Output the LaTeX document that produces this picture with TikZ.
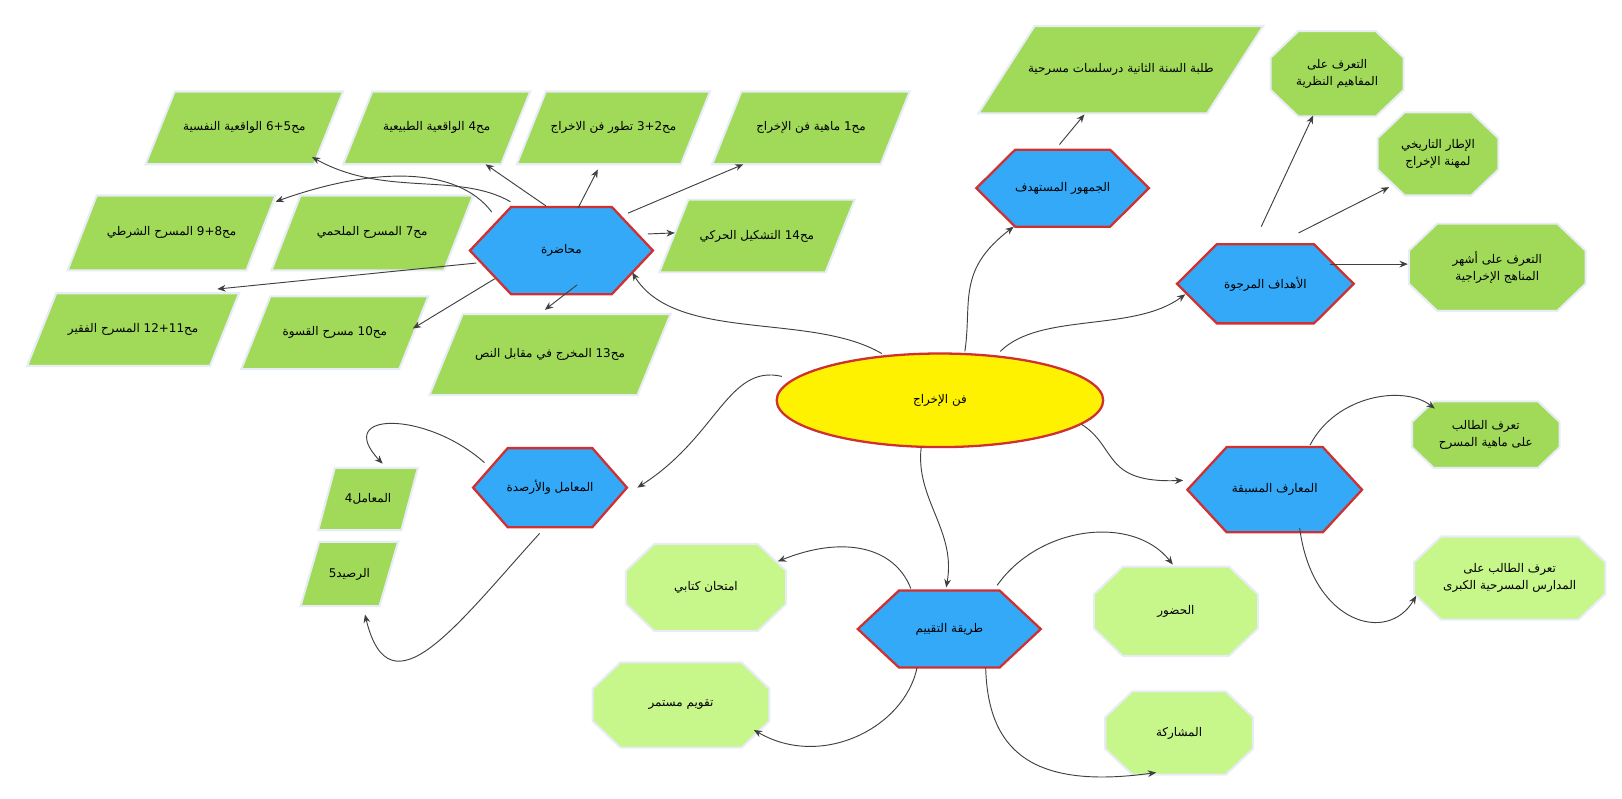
\documentclass[tikz,border=0pt]{standalone}
\usepackage{fontspec}
\newfontfamily\arabicfont[Script=Arabic]{DejaVu Sans}
\TeXXeTstate=1
\usetikzlibrary{shapes.geometric,arrows.meta}
\definecolor{hexblue}{HTML}{33A9F7}
\definecolor{hexred}{HTML}{D03030}
\definecolor{pgreen}{HTML}{A0DA58}
\definecolor{lgreen}{HTML}{C7F68A}
\definecolor{pborder}{HTML}{E8ECF6}
\definecolor{arr}{HTML}{404040}
\newcommand\ar[1]{{\arabicfont\beginR #1\endR}}
\tikzset{
 hexs/.style={draw=hexred,line width=2.2pt,fill=hexblue,line join=miter},
 paras/.style={draw=pborder,line width=2pt,fill=pgreen},
 octs/.style={draw=pborder,line width=2pt},
 lab/.style={inner sep=0pt,align=center,font=\fontsize{11.5}{16}\selectfont},
 con/.style={draw=arr,line width=0.9pt,-{Stealth[length=8pt,width=6.5pt]}}
}
\newcommand\hexa[6]{%
 \draw[hexs] ({#2-#4},#3) -- ({#2-0.55*#4},{#3-#5}) -- ({#2+0.55*#4},{#3-#5}) -- ({#2+#4},#3) -- ({#2+0.55*#4},{#3+#5}) -- ({#2-0.55*#4},{#3+#5}) -- cycle;
 \node[lab,minimum width={2*#4},minimum height={2*#5}] (#1) at (#2,#3) {#6};}
\newcommand\para[7]{%
 \draw[paras] ({#2-#4+#6},{#3-#5}) -- ({#2+#4+#6},{#3-#5}) -- ({#2+#4-#6},{#3+#5}) -- ({#2-#4-#6},{#3+#5}) -- cycle;
 \node[lab,minimum width={2*#4},minimum height={2*#5}] (#1) at (#2,#3) {#7};}
\newcommand\octa[7]{%
 \draw[octs,fill=#6] ({#2-#4+0.65*#5},{#3-#5}) -- ({#2+#4-0.65*#5},{#3-#5}) -- ({#2+#4},{#3-0.38*#5}) -- ({#2+#4},{#3+0.38*#5}) -- ({#2+#4-0.65*#5},{#3+#5}) -- ({#2-#4+0.65*#5},{#3+#5}) -- ({#2-#4},{#3+0.38*#5}) -- ({#2-#4},{#3-0.38*#5}) -- cycle;
 \node[lab,minimum width={2*#4},minimum height={2*#5}] (#1) at (#2,#3) {#7};}
\begin{document}
\begin{tikzpicture}[x=1pt,y=-1pt]
\useasboundingbox (0,0) rectangle (1560,768);
% centre
\node[ellipse,draw=hexred,line width=2.2pt,fill=yellow,minimum width=314,minimum height=90,lab] (C) at (904,385) {\ar{فن الإخراج}};
% hexagons
\hexa{M}{540}{241}{88}{42}{\ar{محاضرة}}
\hexa{J}{1022}{181}{83}{37}{\ar{الجمهور المستهدف}}
\hexa{G}{1217}{273}{85}{38}{\ar{الأهداف المرجوة}}
\hexa{K}{1226}{471}{84}{41}{\ar{المعارف المسبقة}}
\hexa{L}{529}{469}{74}{38}{\ar{المعامل والأرصدة}}
\hexa{T}{913}{605}{88}{37}{\ar{طريقة التقييم}}
% parallelograms
\para{P1}{780}{123}{81}{35}{14}{\ar{مح\beginL1\endL{} ماهية فن الإخراج}}
\para{P23}{590}{123}{79}{35}{14}{\ar{مح\beginL3+2\endL{} تطور فن الاخراج}}
\para{P4}{420}{123}{76}{35}{14}{\ar{مح\beginL4\endL{} الواقعية الطبيعية}}
\para{P56}{235}{123}{81}{35}{14}{\ar{مح\beginL6+5\endL{} الواقعية النفسية}}
\para{P89}{165}{224}{86}{36}{14}{\ar{مح\beginL9+8\endL{} المسرح الشرطي}}
\para{P7}{358}{224}{83}{36}{14}{\ar{مح\beginL7\endL{} المسرح الملحمي}}
\para{P14}{728}{227}{80}{35}{14}{\ar{مح\beginL14\endL{} التشكيل الحركي}}
\para{P1112}{128}{317}{88}{35}{14}{\ar{مح\beginL12+11\endL{} المسرح الفقير}}
\para{P10}{322}{320}{76}{35}{14}{\ar{مح\beginL10\endL{} مسرح القسوة}}
\para{P13}{529}{341}{100}{39}{16}{\ar{مح\beginL13\endL{} المخرج في مقابل النص}}
\para{S}{1078}{67}{110}{42}{27}{\ar{طلبة السنة الثانية درسلسات مسرحية}}
\para{Q4}{354}{480}{40}{30}{8}{\ar{المعامل\beginL4\endL}}
\para{Q5}{336}{552}{38}{31}{9}{\ar{الرصيد\beginL5\endL}}
% octagons
\octa{O1}{1286}{71}{64}{41}{pgreen}{\ar{التعرف على}\\\ar{المفاهيم النظرية}}
\octa{O2}{1383}{148}{58}{40}{pgreen}{\ar{الإطار التاريخي}\\\ar{لمهنة الإخراج}}
\octa{O3}{1440}{257}{85}{42}{pgreen}{\ar{التعرف على أشهر}\\\ar{المناهج الإخراجية}}
\octa{O4}{1429}{418}{71}{32}{pgreen}{\ar{تعرف الطالب}\\\ar{على ماهية المسرح}}
\octa{O5}{1452}{556}{92}{40}{lgreen}{\ar{تعرف الطالب على}\\\ar{المدارس المسرحية الكبرى}}
\octa{E}{679}{565}{77}{42}{lgreen}{\ar{امتحان كتابي}}
\octa{H}{1131}{588}{79}{43}{lgreen}{\ar{الحضور}}
\octa{V}{655}{678}{85}{41}{lgreen}{\ar{تقويم مستمر}}
\octa{R}{1134}{705}{71}{40}{lgreen}{\ar{المشاركة}}
% connectors from centre
\draw[con] ([shift={(-56,-45)}]C.center) .. controls (780,300) and (650,330) .. ([shift={(68,21)}]M.center);
\draw[con] ([shift={(24,-47)}]C.center) .. controls (935,290) and (920,260) .. ([shift={(-47,37)}]J.center);
\draw[con] ([shift={(58,-47)}]C.center) .. controls (1000,300) and (1090,320) .. ([shift={(-77,10)}]G.center);
\draw[con] ([shift={(136,23)}]C.center) .. controls (1075,430) and (1060,465) .. ([shift={(-88,-9)}]K.center);
\draw[con] ([shift={(-18,45)}]C.center) .. controls (880,480) and (920,510) .. ([shift={(-3,-40)}]T.center);
\draw[con] ([shift={(-152,-23)}]C.center) .. controls (700,350) and (690,420) .. ([shift={(84,0)}]L.center);
% lecture
\draw[con] ([shift={(64,-36)}]M.center) -- ([shift={(-65,35)}]P1.center);
\draw[con] ([shift={(16,-41)}]M.center) -- ([shift={(-15,40)}]P23.center);
\draw[con] ([shift={(-15,-43)}]M.center) -- ([shift={(47,35)}]P4.center);
\draw[con] ([shift={(-49,-47)}]M.center) .. controls (440,165) and (370,190) .. ([shift={(65,28)}]P56.center);
\draw[con] ([shift={(-67,-37)}]M.center) .. controls (440,160) and (360,160) .. ([shift={(100,-30)}]P89.center);
\draw[con] ([shift={(83,-16)}]M.center) -- ([shift={(-79,-3)}]P14.center);
\draw[con] ([shift={(-82,12)}]M.center) -- ([shift={(81,-39)}]P1112.center);
\draw[con] ([shift={(-64,27)}]M.center) -- ([shift={(75,-4)}]P10.center);
\draw[con] ([shift={(15,33)}]M.center) -- ([shift={(-5,-43)}]P13.center);
% audience, goals
\draw[con] ([shift={(-3,-42)}]J.center) -- ([shift={(-35,43)}]S.center);
\draw[con] ([shift={(-4,-55)}]G.center) -- ([shift={(-23,40)}]O1.center);
\draw[con] ([shift={(32,-49)}]G.center) -- ([shift={(-47,32)}]O2.center);
\draw[con] ([shift={(62,-19)}]G.center) -- ([shift={(-86,-3)}]O3.center);
% prior knowledge
\draw[con] ([shift={(34,-43)}]K.center) .. controls (1285,380) and (1350,370) .. ([shift={(-49,-25)}]O4.center);
\draw[con] ([shift={(24,37)}]K.center) .. controls (1262,600) and (1335,620) .. ([shift={(-90,17)}]O5.center);
% labs
\draw[con] ([shift={(-63,-24)}]L.center) .. controls (410,395) and (320,395) .. ([shift={(14,-34)}]Q4.center);
\draw[con] ([shift={(-10,44)}]L.center) .. controls (440,600) and (375,690) .. ([shift={(15,39)}]Q5.center);
% evaluation
\draw[con] ([shift={(-37,-39)}]T.center) .. controls (860,525) and (810,515) .. ([shift={(69,-25)}]E.center);
\draw[con] ([shift={(46,-42)}]T.center) .. controls (1000,505) and (1090,495) .. ([shift={(-3,-45)}]H.center);
\draw[con] ([shift={(-31,37)}]T.center) .. controls (870,700) and (790,740) .. ([shift={(70,24)}]V.center);
\draw[con] ([shift={(35,37)}]T.center) .. controls (950,720) and (990,760) .. ([shift={(-22,38)}]R.center);
\end{tikzpicture}
\end{document}
